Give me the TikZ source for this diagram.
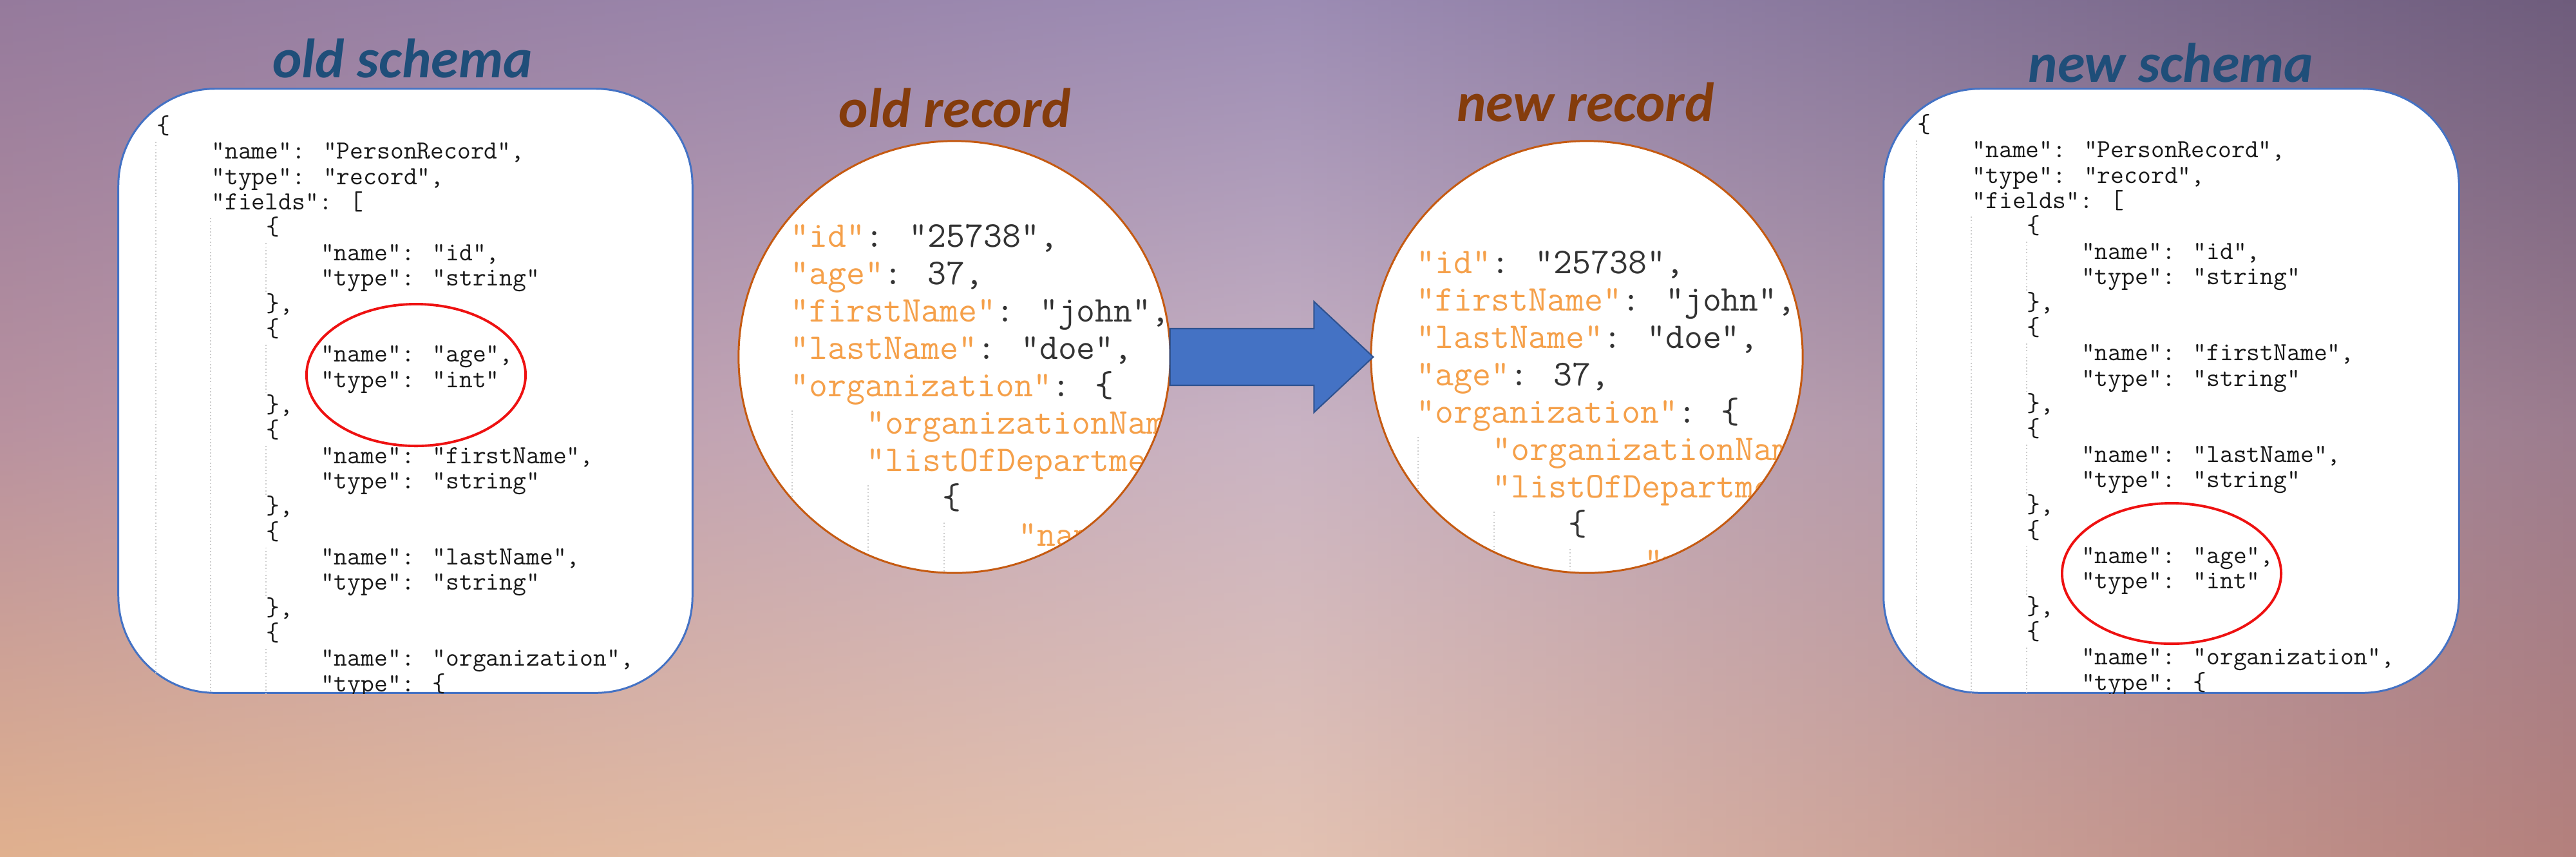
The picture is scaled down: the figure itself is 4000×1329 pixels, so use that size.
\documentclass[tikz,border=0pt]{standalone}
\usepackage{fontspec}
\newfontfamily\titlefont{Carlito}
\usetikzlibrary{positioning, calc}

\definecolor{bgTL}{HTML}{957A9C}
\definecolor{bgTM}{HTML}{9C8CB4}
\definecolor{bgTR}{HTML}{6E5C7C}
\definecolor{bgML}{HTML}{B8919F}
\definecolor{bgMM}{HTML}{C9B3C3}
\definecolor{bgMR}{HTML}{9C7C8E}
\definecolor{bgBL}{HTML}{E0B08E}
\definecolor{bgBM}{HTML}{E3C2B2}
\definecolor{bgBR}{HTML}{B4807C}
\definecolor{schemablue}{HTML}{4472C4}
\definecolor{titleblue}{HTML}{1F4E79}
\definecolor{titlebrown}{HTML}{843C0C}
\definecolor{ringbrown}{HTML}{C55A11}
\definecolor{keyorange}{HTML}{F5A04A}
\definecolor{valgray}{HTML}{333333}
\definecolor{arrowline}{HTML}{2F528F}
\definecolor{ringred}{HTML}{EE1111}

\newcommand{\jkey}[1]{\textcolor{keyorange}{"#1"}}

\begin{document}
\begin{tikzpicture}[
    x=0.01cm, y=-0.01cm,
    schematitle/.style={font=\titlefont\bfseries\itshape\fontsize{24.5}{28}\selectfont, text=titleblue, inner sep=0},
    recordtitle/.style={font=\titlefont\bfseries\itshape\fontsize{24.5}{28}\selectfont, text=titlebrown, inner sep=0},
    schemabox/.style={draw=schemablue, fill=white, line width=0.85pt, rounded corners=1.5cm},
    recordcircle/.style={circle, draw=ringbrown, fill=white, line width=0.85pt, minimum size=6.7cm},
    codeline/.style={anchor=mid west, inner sep=0, text=black!90, font=\ttfamily\fontsize{11.5}{13}\selectfont},
    recline/.style={anchor=mid west, inner sep=0, text=valgray, font=\ttfamily\fontsize{16}{18}\selectfont},
    guide/.style={densely dotted, draw=black!20, line width=0.5pt},
    blockarrow/.style={draw=arrowline, fill=schemablue, line width=0.6pt, line join=miter},
    redring/.style={draw=ringred, line width=1.1pt}
]

\useasboundingbox (0,0) rectangle (4000,1329);

% Background
\foreach \i in {0,...,199} {
    \pgfmathsetmacro{\p}{mod(\i,100)+0.5}
    \ifnum\i<100
        \shade[top color=bgTM!\p!bgTL, bottom color=bgBM!\p!bgBL, middle color=bgMM!\p!bgML] (\i*20,0) rectangle ++(22,1329);
    \else
        \shade[top color=bgTR!\p!bgTM, bottom color=bgBR!\p!bgBM, middle color=bgMR!\p!bgMM] (\i*20,0) rectangle ++(22,1329);
    \fi
}

% Titles
\node[schematitle, anchor=base] (oldschematitle) at (625,120) {old schema};
\node[recordtitle, anchor=base] (oldrectitle) at (1483,197) {old record};
\node[recordtitle, anchor=base] (newrectitle) at (2462,188) {new record};
\node[schematitle, anchor=base] (newschematitle) at (3371,127) {new schema};

% Old schema
\def\oldx{243}
\def\oldy{200}
\node[schemabox, minimum width=8.91cm, minimum height=9.37cm] (oldbox) at (629.5,606.5) {};
\begin{scope}
    \clip[rounded corners=1.5cm] (oldbox.south west) rectangle (oldbox.north east);
    \draw[guide] (\oldx-1,\oldy+20) -- (\oldx-1,1080);
    \draw[guide] (\oldx+84,\oldy+3*39.35+20) -- (\oldx+84,1080);
    \foreach \k in {4,8,12,16}
        \draw[guide] (\oldx+170,\oldy+\k*39.35+20) -- (\oldx+170,\oldy+\k*39.35+98);
    \draw[guide] (\oldx+170,\oldy+20*39.35+20) -- (\oldx+170,1080);
    \foreach \cl/\code [count=\row from 0] in {
        0/\{, 4/{"name": "PersonRecord",}, 4/{"type": "record",}, 4/{"fields": [},
        8/\{, 12/{"name": "id",}, 12/{"type": "string"}, 8/{\},},
        8/\{, 12/{"name": "age",}, 12/{"type": "int"}, 8/{\},},
        8/\{, 12/{"name": "firstName",}, 12/{"type": "string"}, 8/{\},},
        8/\{, 12/{"name": "lastName",}, 12/{"type": "string"}, 8/{\},},
        8/\{, 12/{"name": "organization",}, 12/{"type": \{}}
        \node[codeline] (oldline\row) at ({\oldx+\cl*21.2},{\oldy+\row*39.35}) {\code};
\end{scope}
\draw[redring] (646,582) ellipse [x radius=1.7cm, y radius=1.1cm];

% New schema
\def\newx{2977}
\def\newy{198}
\node[schemabox, minimum width=8.93cm, minimum height=9.37cm] (newbox) at (3371.5,606.5) {};
\begin{scope}
    \clip[rounded corners=1.5cm] (newbox.south west) rectangle (newbox.north east);
    \draw[guide] (\newx-1,\newy+20) -- (\newx-1,1080);
    \draw[guide] (\newx+84,\newy+3*39.35+20) -- (\newx+84,1080);
    \foreach \k in {4,8,12,16}
        \draw[guide] (\newx+170,\newy+\k*39.35+20) -- (\newx+170,\newy+\k*39.35+98);
    \draw[guide] (\newx+170,\newy+20*39.35+20) -- (\newx+170,1080);
    \foreach \cl/\code [count=\row from 0] in {
        0/\{, 4/{"name": "PersonRecord",}, 4/{"type": "record",}, 4/{"fields": [},
        8/\{, 12/{"name": "id",}, 12/{"type": "string"}, 8/{\},},
        8/\{, 12/{"name": "firstName",}, 12/{"type": "string"}, 8/{\},},
        8/\{, 12/{"name": "lastName",}, 12/{"type": "string"}, 8/{\},},
        8/\{, 12/{"name": "age",}, 12/{"type": "int"}, 8/{\},},
        8/\{, 12/{"name": "organization",}, 12/{"type": \{}}
        \node[codeline] (newline\row) at ({\newx+\cl*21.2},{\newy+\row*39.35}) {\code};
\end{scope}
\draw[redring] (3372,890) ellipse [x radius=1.7cm, y radius=1.09cm];

% Old record
\def\recx{1227}
\def\recy{376}
\node[recordcircle] (oldrec) at (1482,554) {};
\begin{scope}
    \clip (oldrec.center) circle[radius=3.33cm];
    \draw[guide] (\recx+3,\recy+4*58+29) -- (\recx+3,900);
    \draw[guide] (\recx+4*29.5+3,\recy+6*58+29) -- (\recx+4*29.5+3,900);
    \draw[guide] (\recx+8*29.5+3,\recy+7*58+29) -- (\recx+8*29.5+3,900);
    \foreach \cl/\code [count=\row from 0] in {
        0/{\jkey{id}: "25738",}, 0/{\jkey{age}: 37,}, 0/{\jkey{firstName}: "john",},
        0/{\jkey{lastName}: "doe",}, 0/{\jkey{organization}: \{},
        4/{\jkey{organizationName}:}, 4/{\jkey{listOfDepartments}: [},
        8/\{, 12/{\jkey{name}:}}
        \node[recline] (oldrecline\row) at ({\recx+\cl*29.5},{\recy+\row*58}) {\code};
\end{scope}

% New record
\def\nrecx{2199}
\def\nrecy{417}
\node[recordcircle] (newrec) at (2464,554) {};
\begin{scope}
    \clip (newrec.center) circle[radius=3.33cm];
    \draw[guide] (\nrecx+3,\nrecy+4*58+29) -- (\nrecx+3,900);
    \draw[guide] (\nrecx+4*29.5+3,\nrecy+6*58+29) -- (\nrecx+4*29.5+3,900);
    \draw[guide] (\nrecx+8*29.5+3,\nrecy+7*58+29) -- (\nrecx+8*29.5+3,900);
    \foreach \cl/\code [count=\row from 0] in {
        0/{\jkey{id}: "25738",}, 0/{\jkey{firstName}: "john",}, 0/{\jkey{lastName}: "doe",},
        0/{\jkey{age}: 37,}, 0/{\jkey{organization}: \{},
        4/{\jkey{organizationName}:}, 4/{\jkey{listOfDepartments}: [},
        8/\{, 12/{\jkey{name}:}}
        \node[recline] (newrecline\row) at ({\nrecx+\cl*29.5},{\nrecy+\row*58}) {\code};
\end{scope}

% Block arrow between the records
\draw[blockarrow] ($(oldrec.east)+(-2,-44)$) -- ($(newrec.west)+(-87,-44)$)
    -- ($(newrec.west)+(-87,-86)$) -- ($(newrec.west)+(5,0)$)
    -- ($(newrec.west)+(-87,86)$) -- ($(newrec.west)+(-87,44)$)
    -- ($(oldrec.east)+(-2,44)$) -- cycle;

\end{tikzpicture}
\end{document}
